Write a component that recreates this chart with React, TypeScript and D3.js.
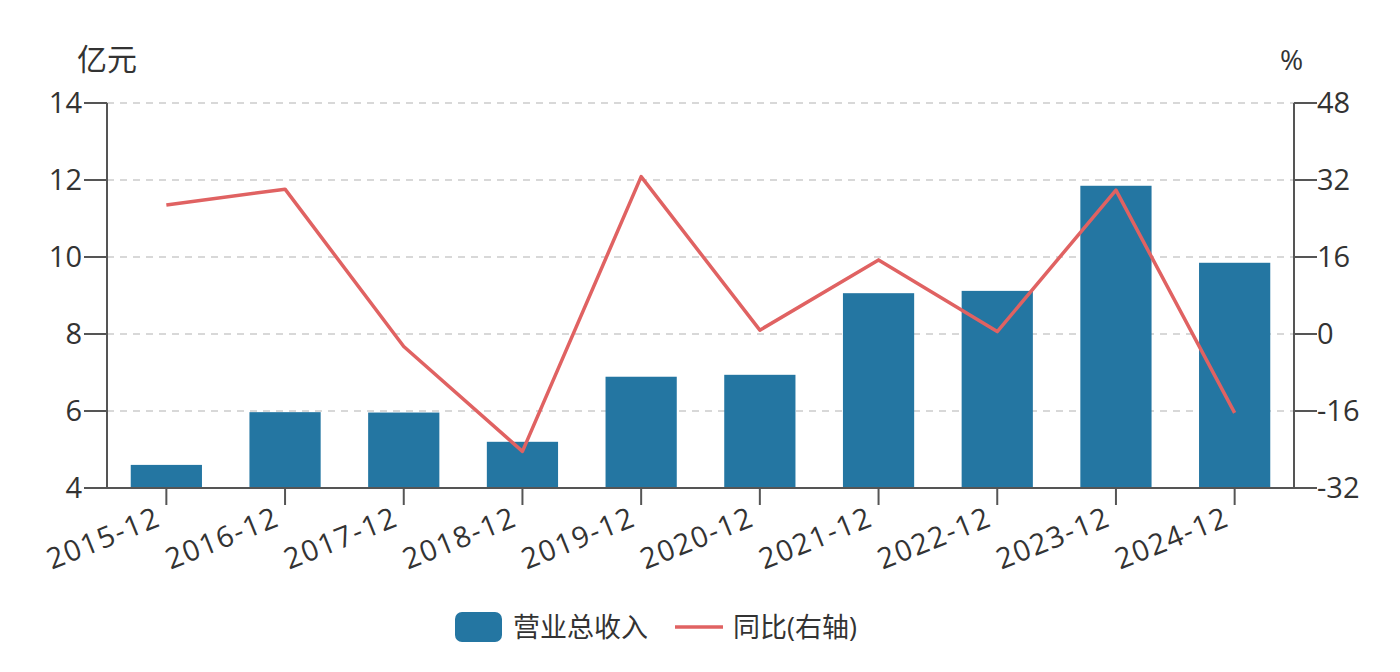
import React from "react";
import * as d3 from "d3";

const categories = ["2015-12","2016-12","2017-12","2018-12","2019-12","2020-12","2021-12","2022-12","2023-12","2024-12"];
const revenue = [4.6, 5.97, 5.96, 5.2, 6.89, 6.94, 9.06, 9.12, 11.85, 9.85];
const yoy = [26.8, 30.1, -2.6, -24.4, 32.7, 0.8, 15.4, 0.5, 29.9, -16.4];
const leftTicks = [4, 6, 8, 10, 12, 14];
const rightTicks = [-32, -16, 0, 16, 32, 48];

const W = 1400, H = 672;
const L = 107, R = 1294, T = 103, B = 488;
const BAR = "#2476a2";
const LINE = "#e06262";
const TXT = "#333";
const AX = "#555";
const FONT = "'Open Sans', 'Noto Sans CJK SC', sans-serif";

export default function App() {
  const x = d3.scaleBand<string>().domain(categories).range([L, R]).paddingInner(0.4).paddingOuter(0.2);
  const yl = d3.scaleLinear().domain([4, 14]).range([B, T]);
  const yr = d3.scaleLinear().domain([-32, 48]).range([B, T]);
  const cx = (c: string) => (x(c) as number) + x.bandwidth() / 2;
  const line = d3.line<number>().x((_, i) => cx(categories[i])).y(d => yr(d));

  return (
    <svg width={W} height={H} style={{ position: "absolute", left: 0, top: 0, background: "#fff" }} fontFamily={FONT}>
      {leftTicks.filter(t => t !== 4).map(t => (
        <line key={"g" + t} x1={L} x2={R} y1={yl(t)} y2={yl(t)} stroke="#d8d8d8" strokeWidth={2} strokeDasharray="7,6" />
      ))}
      {categories.map((c, i) => (
        <rect key={c} x={x(c)} y={yl(revenue[i])} width={x.bandwidth()} height={B - yl(revenue[i])} fill={BAR} />
      ))}
      <path d={line(yoy) || ""} fill="none" stroke={LINE} strokeWidth={3.5} strokeLinejoin="round" />
      <line x1={L} x2={L} y1={T} y2={B} stroke={AX} strokeWidth={2} />
      <line x1={R} x2={R} y1={T} y2={B} stroke={AX} strokeWidth={2} />
      <line x1={L} x2={R} y1={B} y2={B} stroke={AX} strokeWidth={2} />
      {leftTicks.map(t => (
        <g key={"l" + t}>
          <line x1={L - 23} x2={L} y1={yl(t)} y2={yl(t)} stroke={AX} strokeWidth={2} />
          <text x={L - 25} y={yl(t)} dy="0.36em" textAnchor="end" fontSize={29} fill={TXT}>{t}</text>
        </g>
      ))}
      {rightTicks.map(t => (
        <g key={"r" + t}>
          <line x1={R} x2={R + 23} y1={yr(t)} y2={yr(t)} stroke={AX} strokeWidth={2} />
          <text x={R + 23} y={yr(t)} dy="0.36em" textAnchor="start" fontSize={29} fill={TXT}>{t}</text>
        </g>
      ))}
      {categories.map(c => (
        <g key={"x" + c}>
          <line x1={cx(c)} x2={cx(c)} y1={B} y2={B + 17} stroke={AX} strokeWidth={2} />
          <text transform={`translate(${cx(c) - 4},${B + 37}) rotate(-22)`} textAnchor="end" fontSize={29} letterSpacing={1.5} fill={TXT}>{c}</text>
        </g>
      ))}
      <text x={77} y={70} fontSize={30} fill={TXT}>亿元</text>
      <text x={1280} y={70} fontSize={28} fill={TXT}>%</text>
      <rect x={455} y={612} width={47} height={30} rx={7} fill={BAR} />
      <text x={513} y={627} dy="0.36em" fontSize={27} fill={TXT}>营业总收入</text>
      <line x1={675} x2={723} y1={627} y2={627} stroke={LINE} strokeWidth={3.5} />
      <text x={733} y={627} dy="0.36em" fontSize={27} fill={TXT}>同比(右轴)</text>
    </svg>
  );
}
